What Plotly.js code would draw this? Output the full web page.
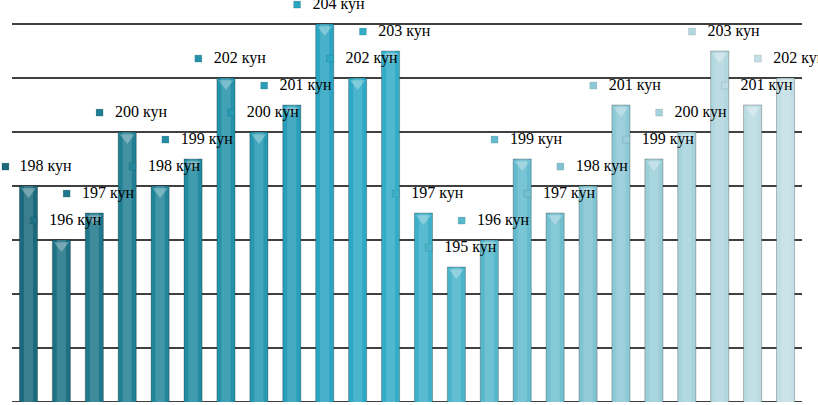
<!DOCTYPE html>
<html>
<head>
<meta charset="utf-8">
<script src="https://cdn.plot.ly/plotly-3.0.1.min.js"></script>
<style>
  html, body { margin: 0; padding: 0; background: #fff; }
  #chart { width: 818px; height: 405px; }
</style>
</head>
<body>
<div id="chart"></div>
<script>
// days per period
const days = [198, 196, 197, 200, 198, 199, 202, 200, 201, 204, 202, 203,
              197, 195, 196, 199, 197, 198, 201, 199, 200, 203, 201, 202];
const unit = " кун";

// horizontal rules of the value axis
const gridValues = [190, 192, 194, 196, 198, 200, 202, 204];

// bar colours, dark teal on the left fading to pale blue on the right
const barColors = [
    "#1b6a7c", "#1d7184", "#1f788b", "#217f93", "#22869a", "#238ca2",
    "#2592aa", "#2698b2", "#289eb9", "#2aa4c1", "#2da9c5", "#33acc7",
    "#3fb0c9", "#4bb4ca", "#57b7cb", "#64bbce", "#72bfd0", "#80c4d3",
    "#8dc9d6", "#9aced9", "#a6d3dc", "#b1d7df", "#badbe2", "#c3dfe5"
];

let xs = days.map((d, i) => i);
let labels = days.map((d) => d + unit);

let bars = {
    type: "bar",
    x: xs,
    y: days,
    width: 0.55,
    marker: {
        color: barColors,
        line: { color: "rgba(0,0,0,0.25)", width: 1 },
    },
    hoverinfo: "skip",
};

// narrow lighter strip to mimic the shiny cylinder look
let shine = {
    type: "bar",
    x: xs,
    y: days,
    width: 0.28,
    marker: { color: "rgba(255,255,255,0.14)", line: { width: 0 } },
    hoverinfo: "skip",
};

// light chevron on the top of each bar
let caps = {
    type: "scatter",
    mode: "markers",
    x: xs,
    y: days.map((d) => d - 0.2),
    marker: {
        symbol: "triangle-down",
        size: 13,
        color: "rgba(255,255,255,0.3)",
        line: { width: 0 },
    },
    hoverinfo: "skip",
};

// little legend-key squares of the data labels (first one is pushed in from the edge)
let keys = {
    type: "scatter",
    mode: "markers",
    x: xs.map((x) => Math.max(x - 0.84, -0.7)),
    y: days.map((d) => d + 0.72),
    marker: {
        symbol: "square",
        size: 7,
        color: barColors,
        line: { color: "rgba(0,0,0,0.2)", width: 0.5 },
    },
    cliponaxis: false,
    hoverinfo: "skip",
};

let texts = {
    type: "scatter",
    mode: "text",
    x: xs.map((x) => (x == 0 ? 0.52 : x + 0.42)),
    y: days.map((d) => d + 0.72),
    text: labels,
    textposition: "middle center",
    textfont: { family: "Liberation Serif, serif", size: 16, color: "#000" },
    cliponaxis: false,
    hoverinfo: "skip",
};

let gridLines = gridValues.map((v) => ({
    type: "line",
    xref: "x",
    yref: "y",
    x0: -0.5,
    x1: 23.5,
    y0: v,
    y1: v,
    layer: "below",
    line: { color: "#000", width: 1.5 },
}));

let layout = {
    width: 818,
    height: 405,
    margin: { l: 0, r: 16, t: 0, b: 3 },
    paper_bgcolor: "#fff",
    plot_bgcolor: "#fff",
    barmode: "overlay",
    showlegend: false,
    shapes: gridLines,
    xaxis: {
        range: [-0.865, 23.5],
        showgrid: false,
        zeroline: false,
        showticklabels: false,
        ticks: "",
    },
    yaxis: {
        range: [190, 204.89],
        showgrid: false,
        zeroline: false,
        showticklabels: false,
        ticks: "",
    },
};

Plotly.newPlot("chart", [bars, shine, caps, keys, texts], layout, { displayModeBar: false, staticPlot: true });
</script>
</body>
</html>
